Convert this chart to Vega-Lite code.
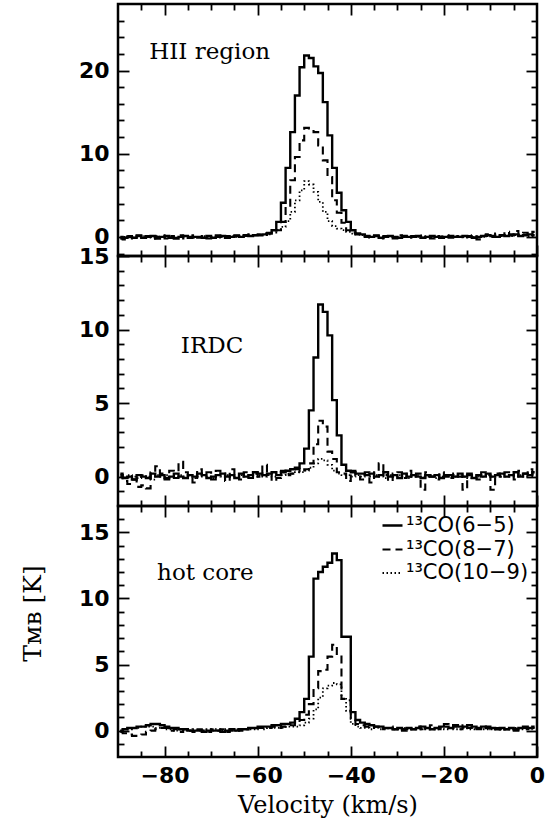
{
"$schema": "https://vega.github.io/schema/vega-lite/v6.json",
"background": "white",
"padding": {"left": 19, "top": 1, "right": 8, "bottom": 2},
"spacing": 0,
"bounds": "flush",
"datasets": {
"hii": [
{"v":-89.5,"s":"6−5","t":-0.2},{"v":-88.5,"s":"6−5","t":-0.1},{"v":-87.5,"s":"6−5","t":0.0},{"v":-86.5,"s":"6−5","t":-0.1},{"v":-85.5,"s":"6−5","t":0.1},{"v":-84.5,"s":"6−5","t":-0.1},{"v":-83.5,"s":"6−5","t":0.0},{"v":-82.5,"s":"6−5","t":0.1},{"v":-81.5,"s":"6−5","t":-0.2},{"v":-80.5,"s":"6−5","t":0.0},
{"v":-79.5,"s":"6−5","t":0.1},{"v":-78.5,"s":"6−5","t":-0.1},{"v":-77.5,"s":"6−5","t":-0.2},{"v":-76.5,"s":"6−5","t":0.0},{"v":-75.5,"s":"6−5","t":0.1},{"v":-74.5,"s":"6−5","t":-0.1},{"v":-73.5,"s":"6−5","t":0.0},{"v":-72.5,"s":"6−5","t":0.0},{"v":-71.5,"s":"6−5","t":-0.1},{"v":-70.5,"s":"6−5","t":0.1},
{"v":-69.5,"s":"6−5","t":-0.1},{"v":-68.5,"s":"6−5","t":0.0},{"v":-67.5,"s":"6−5","t":0.1},{"v":-66.5,"s":"6−5","t":-0.1},{"v":-65.5,"s":"6−5","t":0.0},{"v":-64.5,"s":"6−5","t":0.1},{"v":-63.5,"s":"6−5","t":0.0},{"v":-62.5,"s":"6−5","t":0.2},{"v":-61.5,"s":"6−5","t":0.1},{"v":-60.5,"s":"6−5","t":0.2},
{"v":-59.5,"s":"6−5","t":0.2},{"v":-58.5,"s":"6−5","t":0.3},{"v":-57.5,"s":"6−5","t":0.4},{"v":-56.5,"s":"6−5","t":0.8},{"v":-55.5,"s":"6−5","t":1.8},{"v":-54.5,"s":"6−5","t":4.1},{"v":-53.5,"s":"6−5","t":8.3},{"v":-52.5,"s":"6−5","t":12.6},{"v":-51.5,"s":"6−5","t":17.0},{"v":-50.5,"s":"6−5","t":20.4},
{"v":-49.5,"s":"6−5","t":21.8},{"v":-48.5,"s":"6−5","t":21.5},{"v":-47.5,"s":"6−5","t":20.5},{"v":-46.5,"s":"6−5","t":19.7},{"v":-45.5,"s":"6−5","t":16.2},{"v":-44.5,"s":"6−5","t":12.2},{"v":-43.5,"s":"6−5","t":8.3},{"v":-42.5,"s":"6−5","t":5.3},{"v":-41.5,"s":"6−5","t":3.2},{"v":-40.5,"s":"6−5","t":1.8},
{"v":-39.5,"s":"6−5","t":0.8},{"v":-38.5,"s":"6−5","t":0.4},{"v":-37.5,"s":"6−5","t":0.3},{"v":-36.5,"s":"6−5","t":0.1},{"v":-35.5,"s":"6−5","t":0.0},{"v":-34.5,"s":"6−5","t":0.1},{"v":-33.5,"s":"6−5","t":-0.1},{"v":-32.5,"s":"6−5","t":0.0},{"v":-31.5,"s":"6−5","t":0.1},{"v":-30.5,"s":"6−5","t":0.0},
{"v":-29.5,"s":"6−5","t":-0.1},{"v":-28.5,"s":"6−5","t":0.1},{"v":-27.5,"s":"6−5","t":0.0},{"v":-26.5,"s":"6−5","t":0.0},{"v":-25.5,"s":"6−5","t":0.1},{"v":-24.5,"s":"6−5","t":-0.1},{"v":-23.5,"s":"6−5","t":0.0},{"v":-22.5,"s":"6−5","t":0.1},{"v":-21.5,"s":"6−5","t":0.0},{"v":-20.5,"s":"6−5","t":-0.1},
{"v":-19.5,"s":"6−5","t":0.0},{"v":-18.5,"s":"6−5","t":0.1},{"v":-17.5,"s":"6−5","t":0.0},{"v":-16.5,"s":"6−5","t":0.0},{"v":-15.5,"s":"6−5","t":0.1},{"v":-14.5,"s":"6−5","t":0.0},{"v":-13.5,"s":"6−5","t":-0.1},{"v":-12.5,"s":"6−5","t":0.0},{"v":-11.5,"s":"6−5","t":0.1},{"v":-10.5,"s":"6−5","t":0.2},
{"v":-9.5,"s":"6−5","t":0.1},{"v":-8.5,"s":"6−5","t":0.0},{"v":-7.5,"s":"6−5","t":0.2},{"v":-6.5,"s":"6−5","t":0.1},{"v":-5.5,"s":"6−5","t":0.2},{"v":-4.5,"s":"6−5","t":0.3},{"v":-3.5,"s":"6−5","t":0.1},{"v":-2.5,"s":"6−5","t":0.2},{"v":-1.5,"s":"6−5","t":0.3},{"v":-0.5,"s":"6−5","t":0.2},
{"v":-89.5,"s":"8−7","t":0.0},{"v":-88.5,"s":"8−7","t":-0.3},{"v":-87.5,"s":"8−7","t":0.1},{"v":-86.5,"s":"8−7","t":-0.2},{"v":-85.5,"s":"8−7","t":0.2},{"v":-84.5,"s":"8−7","t":-0.1},{"v":-83.5,"s":"8−7","t":0.1},{"v":-82.5,"s":"8−7","t":-0.2},{"v":-81.5,"s":"8−7","t":0.0},{"v":-80.5,"s":"8−7","t":0.2},
{"v":-79.5,"s":"8−7","t":-0.2},{"v":-78.5,"s":"8−7","t":0.1},{"v":-77.5,"s":"8−7","t":-0.1},{"v":-76.5,"s":"8−7","t":0.2},{"v":-75.5,"s":"8−7","t":-0.2},{"v":-74.5,"s":"8−7","t":0.0},{"v":-73.5,"s":"8−7","t":0.2},{"v":-72.5,"s":"8−7","t":-0.1},{"v":-71.5,"s":"8−7","t":0.1},{"v":-70.5,"s":"8−7","t":-0.2},
{"v":-69.5,"s":"8−7","t":0.0},{"v":-68.5,"s":"8−7","t":0.2},{"v":-67.5,"s":"8−7","t":-0.1},{"v":-66.5,"s":"8−7","t":0.1},{"v":-65.5,"s":"8−7","t":-0.1},{"v":-64.5,"s":"8−7","t":0.2},{"v":-63.5,"s":"8−7","t":0.0},{"v":-62.5,"s":"8−7","t":0.1},{"v":-61.5,"s":"8−7","t":0.3},{"v":-60.5,"s":"8−7","t":0.2},
{"v":-59.5,"s":"8−7","t":0.3},{"v":-58.5,"s":"8−7","t":0.4},{"v":-57.5,"s":"8−7","t":0.5},{"v":-56.5,"s":"8−7","t":0.5},{"v":-55.5,"s":"8−7","t":0.8},{"v":-54.5,"s":"8−7","t":1.8},{"v":-53.5,"s":"8−7","t":3.6},{"v":-52.5,"s":"8−7","t":6.8},{"v":-51.5,"s":"8−7","t":9.6},{"v":-50.5,"s":"8−7","t":11.6},
{"v":-49.5,"s":"8−7","t":13.1},{"v":-48.5,"s":"8−7","t":12.9},{"v":-47.5,"s":"8−7","t":12.6},{"v":-46.5,"s":"8−7","t":11.0},{"v":-45.5,"s":"8−7","t":9.2},{"v":-44.5,"s":"8−7","t":7.2},{"v":-43.5,"s":"8−7","t":4.4},{"v":-42.5,"s":"8−7","t":2.9},{"v":-41.5,"s":"8−7","t":1.7},{"v":-40.5,"s":"8−7","t":0.8},
{"v":-39.5,"s":"8−7","t":0.5},{"v":-38.5,"s":"8−7","t":0.3},{"v":-37.5,"s":"8−7","t":0.2},{"v":-36.5,"s":"8−7","t":0.0},{"v":-35.5,"s":"8−7","t":-0.1},{"v":-34.5,"s":"8−7","t":0.2},{"v":-33.5,"s":"8−7","t":-0.2},{"v":-32.5,"s":"8−7","t":0.1},{"v":-31.5,"s":"8−7","t":0.0},{"v":-30.5,"s":"8−7","t":-0.2},
{"v":-29.5,"s":"8−7","t":0.2},{"v":-28.5,"s":"8−7","t":0.0},{"v":-27.5,"s":"8−7","t":-0.1},{"v":-26.5,"s":"8−7","t":0.1},{"v":-25.5,"s":"8−7","t":0.2},{"v":-24.5,"s":"8−7","t":-0.1},{"v":-23.5,"s":"8−7","t":0.1},{"v":-22.5,"s":"8−7","t":-0.2},{"v":-21.5,"s":"8−7","t":0.1},{"v":-20.5,"s":"8−7","t":0.0},
{"v":-19.5,"s":"8−7","t":0.2},{"v":-18.5,"s":"8−7","t":-0.1},{"v":-17.5,"s":"8−7","t":0.1},{"v":-16.5,"s":"8−7","t":0.0},{"v":-15.5,"s":"8−7","t":-0.2},{"v":-14.5,"s":"8−7","t":0.1},{"v":-13.5,"s":"8−7","t":0.2},{"v":-12.5,"s":"8−7","t":-0.3},{"v":-11.5,"s":"8−7","t":0.1},{"v":-10.5,"s":"8−7","t":0.3},
{"v":-9.5,"s":"8−7","t":0.0},{"v":-8.5,"s":"8−7","t":0.4},{"v":-7.5,"s":"8−7","t":0.2},{"v":-6.5,"s":"8−7","t":0.6},{"v":-5.5,"s":"8−7","t":0.3},{"v":-4.5,"s":"8−7","t":0.7},{"v":-3.5,"s":"8−7","t":0.2},{"v":-2.5,"s":"8−7","t":0.5},{"v":-1.5,"s":"8−7","t":0.1},{"v":-0.5,"s":"8−7","t":0.6},
{"v":-89.5,"s":"10−9","t":-0.1},{"v":-88.5,"s":"10−9","t":0.0},{"v":-87.5,"s":"10−9","t":0.1},{"v":-86.5,"s":"10−9","t":-0.1},{"v":-85.5,"s":"10−9","t":0.0},{"v":-84.5,"s":"10−9","t":0.1},{"v":-83.5,"s":"10−9","t":0.0},{"v":-82.5,"s":"10−9","t":-0.1},{"v":-81.5,"s":"10−9","t":0.1},{"v":-80.5,"s":"10−9","t":0.0},
{"v":-79.5,"s":"10−9","t":0.0},{"v":-78.5,"s":"10−9","t":0.1},{"v":-77.5,"s":"10−9","t":-0.1},{"v":-76.5,"s":"10−9","t":0.0},{"v":-75.5,"s":"10−9","t":0.1},{"v":-74.5,"s":"10−9","t":0.0},{"v":-73.5,"s":"10−9","t":-0.1},{"v":-72.5,"s":"10−9","t":0.0},{"v":-71.5,"s":"10−9","t":0.1},{"v":-70.5,"s":"10−9","t":0.0},
{"v":-69.5,"s":"10−9","t":0.0},{"v":-68.5,"s":"10−9","t":0.1},{"v":-67.5,"s":"10−9","t":0.0},{"v":-66.5,"s":"10−9","t":0.0},{"v":-65.5,"s":"10−9","t":0.1},{"v":-64.5,"s":"10−9","t":0.0},{"v":-63.5,"s":"10−9","t":0.1},{"v":-62.5,"s":"10−9","t":0.1},{"v":-61.5,"s":"10−9","t":0.1},{"v":-60.5,"s":"10−9","t":0.2},
{"v":-59.5,"s":"10−9","t":0.2},{"v":-58.5,"s":"10−9","t":0.2},{"v":-57.5,"s":"10−9","t":0.3},{"v":-56.5,"s":"10−9","t":0.5},{"v":-55.5,"s":"10−9","t":0.8},{"v":-54.5,"s":"10−9","t":1.2},{"v":-53.5,"s":"10−9","t":1.9},{"v":-52.5,"s":"10−9","t":3.0},{"v":-51.5,"s":"10−9","t":4.4},{"v":-50.5,"s":"10−9","t":5.6},
{"v":-49.5,"s":"10−9","t":6.7},{"v":-48.5,"s":"10−9","t":6.3},{"v":-47.5,"s":"10−9","t":5.4},{"v":-46.5,"s":"10−9","t":4.2},{"v":-45.5,"s":"10−9","t":3.0},{"v":-44.5,"s":"10−9","t":1.9},{"v":-43.5,"s":"10−9","t":1.3},{"v":-42.5,"s":"10−9","t":1.0},{"v":-41.5,"s":"10−9","t":0.8},{"v":-40.5,"s":"10−9","t":0.6},
{"v":-39.5,"s":"10−9","t":0.4},{"v":-38.5,"s":"10−9","t":0.3},{"v":-37.5,"s":"10−9","t":0.2},{"v":-36.5,"s":"10−9","t":0.1},{"v":-35.5,"s":"10−9","t":0.0},{"v":-34.5,"s":"10−9","t":0.1},{"v":-33.5,"s":"10−9","t":0.0},{"v":-32.5,"s":"10−9","t":0.0},{"v":-31.5,"s":"10−9","t":0.1},{"v":-30.5,"s":"10−9","t":0.0},
{"v":-29.5,"s":"10−9","t":-0.1},{"v":-28.5,"s":"10−9","t":0.0},{"v":-27.5,"s":"10−9","t":0.1},{"v":-26.5,"s":"10−9","t":0.0},{"v":-25.5,"s":"10−9","t":0.0},{"v":-24.5,"s":"10−9","t":0.1},{"v":-23.5,"s":"10−9","t":0.0},{"v":-22.5,"s":"10−9","t":-0.1},{"v":-21.5,"s":"10−9","t":0.0},{"v":-20.5,"s":"10−9","t":0.1},
{"v":-19.5,"s":"10−9","t":0.0},{"v":-18.5,"s":"10−9","t":0.0},{"v":-17.5,"s":"10−9","t":0.1},{"v":-16.5,"s":"10−9","t":0.0},{"v":-15.5,"s":"10−9","t":0.0},{"v":-14.5,"s":"10−9","t":0.1},{"v":-13.5,"s":"10−9","t":0.0},{"v":-12.5,"s":"10−9","t":0.1},{"v":-11.5,"s":"10−9","t":0.0},{"v":-10.5,"s":"10−9","t":0.1},
{"v":-9.5,"s":"10−9","t":0.1},{"v":-8.5,"s":"10−9","t":0.0},{"v":-7.5,"s":"10−9","t":0.1},{"v":-6.5,"s":"10−9","t":0.2},{"v":-5.5,"s":"10−9","t":0.1},{"v":-4.5,"s":"10−9","t":0.2},{"v":-3.5,"s":"10−9","t":0.1},{"v":-2.5,"s":"10−9","t":0.2},{"v":-1.5,"s":"10−9","t":0.1},{"v":-0.5,"s":"10−9","t":0.2}
],
"irdc": [
{"v":-89.5,"s":"6−5","t":0.1},{"v":-88.5,"s":"6−5","t":-0.1},{"v":-87.5,"s":"6−5","t":0.0},{"v":-86.5,"s":"6−5","t":-0.2},{"v":-85.5,"s":"6−5","t":0.1},{"v":-84.5,"s":"6−5","t":0.0},{"v":-83.5,"s":"6−5","t":-0.1},{"v":-82.5,"s":"6−5","t":0.2},{"v":-81.5,"s":"6−5","t":0.0},{"v":-80.5,"s":"6−5","t":0.1},
{"v":-79.5,"s":"6−5","t":-0.1},{"v":-78.5,"s":"6−5","t":0.0},{"v":-77.5,"s":"6−5","t":0.2},{"v":-76.5,"s":"6−5","t":0.0},{"v":-75.5,"s":"6−5","t":-0.1},{"v":-74.5,"s":"6−5","t":0.1},{"v":-73.5,"s":"6−5","t":0.0},{"v":-72.5,"s":"6−5","t":0.2},{"v":-71.5,"s":"6−5","t":0.1},{"v":-70.5,"s":"6−5","t":-0.1},
{"v":-69.5,"s":"6−5","t":0.0},{"v":-68.5,"s":"6−5","t":0.1},{"v":-67.5,"s":"6−5","t":0.2},{"v":-66.5,"s":"6−5","t":0.0},{"v":-65.5,"s":"6−5","t":0.1},{"v":-64.5,"s":"6−5","t":-0.1},{"v":-63.5,"s":"6−5","t":0.2},{"v":-62.5,"s":"6−5","t":0.0},{"v":-61.5,"s":"6−5","t":0.1},{"v":-60.5,"s":"6−5","t":0.3},
{"v":-59.5,"s":"6−5","t":0.2},{"v":-58.5,"s":"6−5","t":0.1},{"v":-57.5,"s":"6−5","t":0.2},{"v":-56.5,"s":"6−5","t":0.3},{"v":-55.5,"s":"6−5","t":0.1},{"v":-54.5,"s":"6−5","t":0.3},{"v":-53.5,"s":"6−5","t":0.4},{"v":-52.5,"s":"6−5","t":0.5},{"v":-51.5,"s":"6−5","t":0.6},{"v":-50.5,"s":"6−5","t":0.9},
{"v":-49.5,"s":"6−5","t":1.9},{"v":-48.5,"s":"6−5","t":4.5},{"v":-47.5,"s":"6−5","t":8.1},{"v":-46.5,"s":"6−5","t":11.7},{"v":-45.5,"s":"6−5","t":11.2},{"v":-44.5,"s":"6−5","t":9.6},{"v":-43.5,"s":"6−5","t":5.2},{"v":-42.5,"s":"6−5","t":2.8},{"v":-41.5,"s":"6−5","t":0.8},{"v":-40.5,"s":"6−5","t":0.4},
{"v":-39.5,"s":"6−5","t":0.3},{"v":-38.5,"s":"6−5","t":0.2},{"v":-37.5,"s":"6−5","t":0.2},{"v":-36.5,"s":"6−5","t":0.1},{"v":-35.5,"s":"6−5","t":0.2},{"v":-34.5,"s":"6−5","t":0.0},{"v":-33.5,"s":"6−5","t":0.1},{"v":-32.5,"s":"6−5","t":0.3},{"v":-31.5,"s":"6−5","t":0.0},{"v":-30.5,"s":"6−5","t":0.1},
{"v":-29.5,"s":"6−5","t":-0.1},{"v":-28.5,"s":"6−5","t":0.2},{"v":-27.5,"s":"6−5","t":0.0},{"v":-26.5,"s":"6−5","t":0.1},{"v":-25.5,"s":"6−5","t":0.0},{"v":-24.5,"s":"6−5","t":-0.1},{"v":-23.5,"s":"6−5","t":0.1},{"v":-22.5,"s":"6−5","t":0.0},{"v":-21.5,"s":"6−5","t":0.1},{"v":-20.5,"s":"6−5","t":-0.1},
{"v":-19.5,"s":"6−5","t":0.0},{"v":-18.5,"s":"6−5","t":0.1},{"v":-17.5,"s":"6−5","t":0.0},{"v":-16.5,"s":"6−5","t":0.2},{"v":-15.5,"s":"6−5","t":0.0},{"v":-14.5,"s":"6−5","t":0.1},{"v":-13.5,"s":"6−5","t":-0.1},{"v":-12.5,"s":"6−5","t":0.1},{"v":-11.5,"s":"6−5","t":0.0},{"v":-10.5,"s":"6−5","t":0.2},
{"v":-9.5,"s":"6−5","t":0.0},{"v":-8.5,"s":"6−5","t":0.1},{"v":-7.5,"s":"6−5","t":0.2},{"v":-6.5,"s":"6−5","t":0.0},{"v":-5.5,"s":"6−5","t":0.1},{"v":-4.5,"s":"6−5","t":0.3},{"v":-3.5,"s":"6−5","t":0.0},{"v":-2.5,"s":"6−5","t":0.2},{"v":-1.5,"s":"6−5","t":0.1},{"v":-0.5,"s":"6−5","t":0.3},
{"v":-89.5,"s":"8−7","t":0.2},{"v":-88.5,"s":"8−7","t":-0.3},{"v":-87.5,"s":"8−7","t":-0.5},{"v":-86.5,"s":"8−7","t":-0.2},{"v":-85.5,"s":"8−7","t":-0.7},{"v":-84.5,"s":"8−7","t":-0.6},{"v":-83.5,"s":"8−7","t":-0.8},{"v":-82.5,"s":"8−7","t":0.3},{"v":-81.5,"s":"8−7","t":0.7},{"v":-80.5,"s":"8−7","t":0.2},
{"v":-79.5,"s":"8−7","t":-0.2},{"v":-78.5,"s":"8−7","t":0.4},{"v":-77.5,"s":"8−7","t":-0.1},{"v":-76.5,"s":"8−7","t":1.0},{"v":-75.5,"s":"8−7","t":0.3},{"v":-74.5,"s":"8−7","t":0.1},{"v":-73.5,"s":"8−7","t":-0.4},{"v":-72.5,"s":"8−7","t":0.5},{"v":-71.5,"s":"8−7","t":0.1},{"v":-70.5,"s":"8−7","t":0.3},
{"v":-69.5,"s":"8−7","t":-0.2},{"v":-68.5,"s":"8−7","t":0.4},{"v":-67.5,"s":"8−7","t":0.2},{"v":-66.5,"s":"8−7","t":-0.3},{"v":-65.5,"s":"8−7","t":0.5},{"v":-64.5,"s":"8−7","t":0.1},{"v":-63.5,"s":"8−7","t":-0.2},{"v":-62.5,"s":"8−7","t":0.3},{"v":-61.5,"s":"8−7","t":-0.1},{"v":-60.5,"s":"8−7","t":0.2},
{"v":-59.5,"s":"8−7","t":0.0},{"v":-58.5,"s":"8−7","t":0.8},{"v":-57.5,"s":"8−7","t":0.2},{"v":-56.5,"s":"8−7","t":-0.3},{"v":-55.5,"s":"8−7","t":-0.1},{"v":-54.5,"s":"8−7","t":0.4},{"v":-53.5,"s":"8−7","t":0.1},{"v":-52.5,"s":"8−7","t":0.2},{"v":-51.5,"s":"8−7","t":0.5},{"v":-50.5,"s":"8−7","t":0.3},
{"v":-49.5,"s":"8−7","t":0.5},{"v":-48.5,"s":"8−7","t":0.9},{"v":-47.5,"s":"8−7","t":2.2},{"v":-46.5,"s":"8−7","t":3.8},{"v":-45.5,"s":"8−7","t":3.4},{"v":-44.5,"s":"8−7","t":1.7},{"v":-43.5,"s":"8−7","t":1.2},{"v":-42.5,"s":"8−7","t":0.3},{"v":-41.5,"s":"8−7","t":0.2},{"v":-40.5,"s":"8−7","t":-0.3},
{"v":-39.5,"s":"8−7","t":0.4},{"v":-38.5,"s":"8−7","t":0.1},{"v":-37.5,"s":"8−7","t":-0.2},{"v":-36.5,"s":"8−7","t":0.3},{"v":-35.5,"s":"8−7","t":-0.4},{"v":-34.5,"s":"8−7","t":0.3},{"v":-33.5,"s":"8−7","t":0.9},{"v":-32.5,"s":"8−7","t":0.1},{"v":-31.5,"s":"8−7","t":-0.3},{"v":-30.5,"s":"8−7","t":0.2},
{"v":-29.5,"s":"8−7","t":0.3},{"v":-28.5,"s":"8−7","t":-0.1},{"v":-27.5,"s":"8−7","t":0.4},{"v":-26.5,"s":"8−7","t":0.0},{"v":-25.5,"s":"8−7","t":0.2},{"v":-24.5,"s":"8−7","t":-0.9},{"v":-23.5,"s":"8−7","t":0.3},{"v":-22.5,"s":"8−7","t":0.0},{"v":-21.5,"s":"8−7","t":-0.2},{"v":-20.5,"s":"8−7","t":0.3},
{"v":-19.5,"s":"8−7","t":0.1},{"v":-18.5,"s":"8−7","t":-0.1},{"v":-17.5,"s":"8−7","t":0.2},{"v":-16.5,"s":"8−7","t":0.0},{"v":-15.5,"s":"8−7","t":-0.9},{"v":-14.5,"s":"8−7","t":0.2},{"v":-13.5,"s":"8−7","t":0.1},{"v":-12.5,"s":"8−7","t":-0.2},{"v":-11.5,"s":"8−7","t":0.3},{"v":-10.5,"s":"8−7","t":0.1},
{"v":-9.5,"s":"8−7","t":-0.9},{"v":-8.5,"s":"8−7","t":0.2},{"v":-7.5,"s":"8−7","t":0.0},{"v":-6.5,"s":"8−7","t":0.3},{"v":-5.5,"s":"8−7","t":0.1},{"v":-4.5,"s":"8−7","t":-0.2},{"v":-3.5,"s":"8−7","t":0.4},{"v":-2.5,"s":"8−7","t":0.2},{"v":-1.5,"s":"8−7","t":0.5},{"v":-0.5,"s":"8−7","t":0.1},
{"v":-89.5,"s":"10−9","t":0.0},{"v":-88.5,"s":"10−9","t":-0.1},{"v":-87.5,"s":"10−9","t":0.1},{"v":-86.5,"s":"10−9","t":0.0},{"v":-85.5,"s":"10−9","t":-0.1},{"v":-84.5,"s":"10−9","t":0.1},{"v":-83.5,"s":"10−9","t":0.0},{"v":-82.5,"s":"10−9","t":-0.2},{"v":-81.5,"s":"10−9","t":0.1},{"v":-80.5,"s":"10−9","t":0.0},
{"v":-79.5,"s":"10−9","t":0.1},{"v":-78.5,"s":"10−9","t":0.0},{"v":-77.5,"s":"10−9","t":-0.1},{"v":-76.5,"s":"10−9","t":0.1},{"v":-75.5,"s":"10−9","t":0.0},{"v":-74.5,"s":"10−9","t":0.1},{"v":-73.5,"s":"10−9","t":-0.1},{"v":-72.5,"s":"10−9","t":0.0},{"v":-71.5,"s":"10−9","t":0.1},{"v":-70.5,"s":"10−9","t":0.0},
{"v":-69.5,"s":"10−9","t":-0.1},{"v":-68.5,"s":"10−9","t":0.1},{"v":-67.5,"s":"10−9","t":0.0},{"v":-66.5,"s":"10−9","t":0.1},{"v":-65.5,"s":"10−9","t":0.0},{"v":-64.5,"s":"10−9","t":-0.1},{"v":-63.5,"s":"10−9","t":0.1},{"v":-62.5,"s":"10−9","t":0.0},{"v":-61.5,"s":"10−9","t":0.1},{"v":-60.5,"s":"10−9","t":0.0},
{"v":-59.5,"s":"10−9","t":0.1},{"v":-58.5,"s":"10−9","t":0.0},{"v":-57.5,"s":"10−9","t":0.1},{"v":-56.5,"s":"10−9","t":0.0},{"v":-55.5,"s":"10−9","t":0.1},{"v":-54.5,"s":"10−9","t":0.1},{"v":-53.5,"s":"10−9","t":0.2},{"v":-52.5,"s":"10−9","t":0.2},{"v":-51.5,"s":"10−9","t":0.3},{"v":-50.5,"s":"10−9","t":0.3},
{"v":-49.5,"s":"10−9","t":0.4},{"v":-48.5,"s":"10−9","t":0.6},{"v":-47.5,"s":"10−9","t":0.9},{"v":-46.5,"s":"10−9","t":1.2},{"v":-45.5,"s":"10−9","t":1.1},{"v":-44.5,"s":"10−9","t":0.8},{"v":-43.5,"s":"10−9","t":0.4},{"v":-42.5,"s":"10−9","t":0.2},{"v":-41.5,"s":"10−9","t":0.1},{"v":-40.5,"s":"10−9","t":0.1},
{"v":-39.5,"s":"10−9","t":0.0},{"v":-38.5,"s":"10−9","t":0.1},{"v":-37.5,"s":"10−9","t":0.0},{"v":-36.5,"s":"10−9","t":0.1},{"v":-35.5,"s":"10−9","t":0.0},{"v":-34.5,"s":"10−9","t":0.1},{"v":-33.5,"s":"10−9","t":0.0},{"v":-32.5,"s":"10−9","t":-0.1},{"v":-31.5,"s":"10−9","t":0.1},{"v":-30.5,"s":"10−9","t":0.0},
{"v":-29.5,"s":"10−9","t":0.1},{"v":-28.5,"s":"10−9","t":0.0},{"v":-27.5,"s":"10−9","t":-0.1},{"v":-26.5,"s":"10−9","t":0.0},{"v":-25.5,"s":"10−9","t":0.1},{"v":-24.5,"s":"10−9","t":0.0},{"v":-23.5,"s":"10−9","t":0.0},{"v":-22.5,"s":"10−9","t":0.1},{"v":-21.5,"s":"10−9","t":-0.1},{"v":-20.5,"s":"10−9","t":0.0},
{"v":-19.5,"s":"10−9","t":0.1},{"v":-18.5,"s":"10−9","t":0.0},{"v":-17.5,"s":"10−9","t":0.0},{"v":-16.5,"s":"10−9","t":0.1},{"v":-15.5,"s":"10−9","t":0.0},{"v":-14.5,"s":"10−9","t":-0.1},{"v":-13.5,"s":"10−9","t":0.1},{"v":-12.5,"s":"10−9","t":0.0},{"v":-11.5,"s":"10−9","t":0.0},{"v":-10.5,"s":"10−9","t":0.1},
{"v":-9.5,"s":"10−9","t":0.0},{"v":-8.5,"s":"10−9","t":0.1},{"v":-7.5,"s":"10−9","t":0.0},{"v":-6.5,"s":"10−9","t":0.0},{"v":-5.5,"s":"10−9","t":0.1},{"v":-4.5,"s":"10−9","t":0.0},{"v":-3.5,"s":"10−9","t":0.1},{"v":-2.5,"s":"10−9","t":0.0},{"v":-1.5,"s":"10−9","t":0.1},{"v":-0.5,"s":"10−9","t":0.0}
],
"hc": [
{"v":-89.5,"s":"6−5","t":0.0},{"v":-88.5,"s":"6−5","t":0.1},{"v":-87.5,"s":"6−5","t":0.2},{"v":-86.5,"s":"6−5","t":0.2},{"v":-85.5,"s":"6−5","t":0.3},{"v":-84.5,"s":"6−5","t":0.3},{"v":-83.5,"s":"6−5","t":0.4},{"v":-82.5,"s":"6−5","t":0.5},{"v":-81.5,"s":"6−5","t":0.5},{"v":-80.5,"s":"6−5","t":0.4},
{"v":-79.5,"s":"6−5","t":0.3},{"v":-78.5,"s":"6−5","t":0.2},{"v":-77.5,"s":"6−5","t":0.2},{"v":-76.5,"s":"6−5","t":0.1},{"v":-75.5,"s":"6−5","t":0.1},{"v":-74.5,"s":"6−5","t":0.0},{"v":-73.5,"s":"6−5","t":0.0},{"v":-72.5,"s":"6−5","t":0.0},{"v":-71.5,"s":"6−5","t":-0.1},{"v":-70.5,"s":"6−5","t":0.0},
{"v":-69.5,"s":"6−5","t":0.0},{"v":-68.5,"s":"6−5","t":0.0},{"v":-67.5,"s":"6−5","t":-0.1},{"v":-66.5,"s":"6−5","t":0.0},{"v":-65.5,"s":"6−5","t":0.1},{"v":-64.5,"s":"6−5","t":0.0},{"v":-63.5,"s":"6−5","t":0.1},{"v":-62.5,"s":"6−5","t":0.1},{"v":-61.5,"s":"6−5","t":0.2},{"v":-60.5,"s":"6−5","t":0.2},
{"v":-59.5,"s":"6−5","t":0.3},{"v":-58.5,"s":"6−5","t":0.3},{"v":-57.5,"s":"6−5","t":0.3},{"v":-56.5,"s":"6−5","t":0.4},{"v":-55.5,"s":"6−5","t":0.4},{"v":-54.5,"s":"6−5","t":0.5},{"v":-53.5,"s":"6−5","t":0.5},{"v":-52.5,"s":"6−5","t":0.6},{"v":-51.5,"s":"6−5","t":0.9},{"v":-50.5,"s":"6−5","t":1.4},
{"v":-49.5,"s":"6−5","t":2.4},{"v":-48.5,"s":"6−5","t":5.6},{"v":-47.5,"s":"6−5","t":11.5},{"v":-46.5,"s":"6−5","t":12.0},{"v":-45.5,"s":"6−5","t":12.4},{"v":-44.5,"s":"6−5","t":12.7},{"v":-43.5,"s":"6−5","t":13.4},{"v":-42.5,"s":"6−5","t":12.9},{"v":-41.5,"s":"6−5","t":7.1},{"v":-40.5,"s":"6−5","t":7.1},
{"v":-39.5,"s":"6−5","t":1.4},{"v":-38.5,"s":"6−5","t":0.8},{"v":-37.5,"s":"6−5","t":0.6},{"v":-36.5,"s":"6−5","t":0.5},{"v":-35.5,"s":"6−5","t":0.4},{"v":-34.5,"s":"6−5","t":0.3},{"v":-33.5,"s":"6−5","t":0.3},{"v":-32.5,"s":"6−5","t":0.2},{"v":-31.5,"s":"6−5","t":0.2},{"v":-30.5,"s":"6−5","t":0.1},
{"v":-29.5,"s":"6−5","t":0.2},{"v":-28.5,"s":"6−5","t":0.1},{"v":-27.5,"s":"6−5","t":0.2},{"v":-26.5,"s":"6−5","t":0.1},{"v":-25.5,"s":"6−5","t":0.2},{"v":-24.5,"s":"6−5","t":0.3},{"v":-23.5,"s":"6−5","t":0.2},{"v":-22.5,"s":"6−5","t":0.1},{"v":-21.5,"s":"6−5","t":0.2},{"v":-20.5,"s":"6−5","t":0.3},
{"v":-19.5,"s":"6−5","t":0.3},{"v":-18.5,"s":"6−5","t":0.2},{"v":-17.5,"s":"6−5","t":0.4},{"v":-16.5,"s":"6−5","t":0.3},{"v":-15.5,"s":"6−5","t":0.3},{"v":-14.5,"s":"6−5","t":0.4},{"v":-13.5,"s":"6−5","t":0.3},{"v":-12.5,"s":"6−5","t":0.2},{"v":-11.5,"s":"6−5","t":0.3},{"v":-10.5,"s":"6−5","t":0.2},
{"v":-9.5,"s":"6−5","t":0.2},{"v":-8.5,"s":"6−5","t":0.1},{"v":-7.5,"s":"6−5","t":0.2},{"v":-6.5,"s":"6−5","t":0.1},{"v":-5.5,"s":"6−5","t":0.2},{"v":-4.5,"s":"6−5","t":0.1},{"v":-3.5,"s":"6−5","t":0.2},{"v":-2.5,"s":"6−5","t":0.3},{"v":-1.5,"s":"6−5","t":0.2},{"v":-0.5,"s":"6−5","t":0.3},
{"v":-89.5,"s":"8−7","t":-0.1},{"v":-88.5,"s":"8−7","t":-0.2},{"v":-87.5,"s":"8−7","t":-0.3},{"v":-86.5,"s":"8−7","t":-0.4},{"v":-85.5,"s":"8−7","t":-0.4},{"v":-84.5,"s":"8−7","t":-0.3},{"v":-83.5,"s":"8−7","t":-0.1},{"v":-82.5,"s":"8−7","t":0.0},{"v":-81.5,"s":"8−7","t":0.1},{"v":-80.5,"s":"8−7","t":0.2},
{"v":-79.5,"s":"8−7","t":0.2},{"v":-78.5,"s":"8−7","t":0.0},{"v":-77.5,"s":"8−7","t":0.1},{"v":-76.5,"s":"8−7","t":-0.1},{"v":-75.5,"s":"8−7","t":0.1},{"v":-74.5,"s":"8−7","t":0.0},{"v":-73.5,"s":"8−7","t":-0.1},{"v":-72.5,"s":"8−7","t":0.1},{"v":-71.5,"s":"8−7","t":0.0},{"v":-70.5,"s":"8−7","t":-0.1},
{"v":-69.5,"s":"8−7","t":0.1},{"v":-68.5,"s":"8−7","t":0.0},{"v":-67.5,"s":"8−7","t":0.1},{"v":-66.5,"s":"8−7","t":-0.1},{"v":-65.5,"s":"8−7","t":0.0},{"v":-64.5,"s":"8−7","t":0.1},{"v":-63.5,"s":"8−7","t":0.0},{"v":-62.5,"s":"8−7","t":0.1},{"v":-61.5,"s":"8−7","t":0.2},{"v":-60.5,"s":"8−7","t":0.1},
{"v":-59.5,"s":"8−7","t":0.2},{"v":-58.5,"s":"8−7","t":0.2},{"v":-57.5,"s":"8−7","t":0.2},{"v":-56.5,"s":"8−7","t":0.3},{"v":-55.5,"s":"8−7","t":0.2},{"v":-54.5,"s":"8−7","t":0.3},{"v":-53.5,"s":"8−7","t":0.4},{"v":-52.5,"s":"8−7","t":0.4},{"v":-51.5,"s":"8−7","t":0.6},{"v":-50.5,"s":"8−7","t":0.8},
{"v":-49.5,"s":"8−7","t":1.2},{"v":-48.5,"s":"8−7","t":2.0},{"v":-47.5,"s":"8−7","t":3.2},{"v":-46.5,"s":"8−7","t":4.5},{"v":-45.5,"s":"8−7","t":4.6},{"v":-44.5,"s":"8−7","t":5.6},{"v":-43.5,"s":"8−7","t":6.5},{"v":-42.5,"s":"8−7","t":5.7},{"v":-41.5,"s":"8−7","t":2.4},{"v":-40.5,"s":"8−7","t":2.3},
{"v":-39.5,"s":"8−7","t":0.9},{"v":-38.5,"s":"8−7","t":0.5},{"v":-37.5,"s":"8−7","t":0.4},{"v":-36.5,"s":"8−7","t":0.3},{"v":-35.5,"s":"8−7","t":0.2},{"v":-34.5,"s":"8−7","t":0.3},{"v":-33.5,"s":"8−7","t":0.1},{"v":-32.5,"s":"8−7","t":0.2},{"v":-31.5,"s":"8−7","t":0.3},{"v":-30.5,"s":"8−7","t":0.1},
{"v":-29.5,"s":"8−7","t":0.2},{"v":-28.5,"s":"8−7","t":0.0},{"v":-27.5,"s":"8−7","t":0.2},{"v":-26.5,"s":"8−7","t":0.1},{"v":-25.5,"s":"8−7","t":0.3},{"v":-24.5,"s":"8−7","t":0.1},{"v":-23.5,"s":"8−7","t":0.2},{"v":-22.5,"s":"8−7","t":0.4},{"v":-21.5,"s":"8−7","t":0.2},{"v":-20.5,"s":"8−7","t":0.1},
{"v":-19.5,"s":"8−7","t":0.5},{"v":-18.5,"s":"8−7","t":0.2},{"v":-17.5,"s":"8−7","t":0.3},{"v":-16.5,"s":"8−7","t":0.1},{"v":-15.5,"s":"8−7","t":0.4},{"v":-14.5,"s":"8−7","t":0.2},{"v":-13.5,"s":"8−7","t":0.3},{"v":-12.5,"s":"8−7","t":0.1},{"v":-11.5,"s":"8−7","t":0.2},{"v":-10.5,"s":"8−7","t":0.3},
{"v":-9.5,"s":"8−7","t":0.1},{"v":-8.5,"s":"8−7","t":0.2},{"v":-7.5,"s":"8−7","t":0.0},{"v":-6.5,"s":"8−7","t":0.1},{"v":-5.5,"s":"8−7","t":0.2},{"v":-4.5,"s":"8−7","t":0.0},{"v":-3.5,"s":"8−7","t":0.1},{"v":-2.5,"s":"8−7","t":0.2},{"v":-1.5,"s":"8−7","t":0.1},{"v":-0.5,"s":"8−7","t":0.2},
{"v":-89.5,"s":"10−9","t":0.0},{"v":-88.5,"s":"10−9","t":0.1},{"v":-87.5,"s":"10−9","t":0.1},{"v":-86.5,"s":"10−9","t":0.2},{"v":-85.5,"s":"10−9","t":0.2},{"v":-84.5,"s":"10−9","t":0.3},{"v":-83.5,"s":"10−9","t":0.3},{"v":-82.5,"s":"10−9","t":0.3},{"v":-81.5,"s":"10−9","t":0.2},{"v":-80.5,"s":"10−9","t":0.2},
{"v":-79.5,"s":"10−9","t":0.1},{"v":-78.5,"s":"10−9","t":0.1},{"v":-77.5,"s":"10−9","t":0.0},{"v":-76.5,"s":"10−9","t":0.1},{"v":-75.5,"s":"10−9","t":0.0},{"v":-74.5,"s":"10−9","t":0.0},{"v":-73.5,"s":"10−9","t":0.1},{"v":-72.5,"s":"10−9","t":0.0},{"v":-71.5,"s":"10−9","t":0.0},{"v":-70.5,"s":"10−9","t":0.1},
{"v":-69.5,"s":"10−9","t":0.0},{"v":-68.5,"s":"10−9","t":0.1},{"v":-67.5,"s":"10−9","t":0.0},{"v":-66.5,"s":"10−9","t":0.1},{"v":-65.5,"s":"10−9","t":0.1},{"v":-64.5,"s":"10−9","t":0.0},{"v":-63.5,"s":"10−9","t":0.1},{"v":-62.5,"s":"10−9","t":0.1},{"v":-61.5,"s":"10−9","t":0.1},{"v":-60.5,"s":"10−9","t":0.1},
{"v":-59.5,"s":"10−9","t":0.2},{"v":-58.5,"s":"10−9","t":0.1},{"v":-57.5,"s":"10−9","t":0.2},{"v":-56.5,"s":"10−9","t":0.2},{"v":-55.5,"s":"10−9","t":0.2},{"v":-54.5,"s":"10−9","t":0.2},{"v":-53.5,"s":"10−9","t":0.3},{"v":-52.5,"s":"10−9","t":0.3},{"v":-51.5,"s":"10−9","t":0.3},{"v":-50.5,"s":"10−9","t":0.4},
{"v":-49.5,"s":"10−9","t":0.6},{"v":-48.5,"s":"10−9","t":0.9},{"v":-47.5,"s":"10−9","t":1.6},{"v":-46.5,"s":"10−9","t":2.5},{"v":-45.5,"s":"10−9","t":3.2},{"v":-44.5,"s":"10−9","t":3.4},{"v":-43.5,"s":"10−9","t":3.6},{"v":-42.5,"s":"10−9","t":3.5},{"v":-41.5,"s":"10−9","t":2.4},{"v":-40.5,"s":"10−9","t":1.5},
{"v":-39.5,"s":"10−9","t":0.5},{"v":-38.5,"s":"10−9","t":0.3},{"v":-37.5,"s":"10−9","t":0.2},{"v":-36.5,"s":"10−9","t":0.2},{"v":-35.5,"s":"10−9","t":0.1},{"v":-34.5,"s":"10−9","t":0.2},{"v":-33.5,"s":"10−9","t":0.1},{"v":-32.5,"s":"10−9","t":0.1},{"v":-31.5,"s":"10−9","t":0.2},{"v":-30.5,"s":"10−9","t":0.1},
{"v":-29.5,"s":"10−9","t":0.1},{"v":-28.5,"s":"10−9","t":0.2},{"v":-27.5,"s":"10−9","t":0.1},{"v":-26.5,"s":"10−9","t":0.1},{"v":-25.5,"s":"10−9","t":0.2},{"v":-24.5,"s":"10−9","t":0.1},{"v":-23.5,"s":"10−9","t":0.2},{"v":-22.5,"s":"10−9","t":0.1},{"v":-21.5,"s":"10−9","t":0.1},{"v":-20.5,"s":"10−9","t":0.2},
{"v":-19.5,"s":"10−9","t":0.1},{"v":-18.5,"s":"10−9","t":0.2},{"v":-17.5,"s":"10−9","t":0.1},{"v":-16.5,"s":"10−9","t":0.1},{"v":-15.5,"s":"10−9","t":0.2},{"v":-14.5,"s":"10−9","t":0.1},{"v":-13.5,"s":"10−9","t":0.1},{"v":-12.5,"s":"10−9","t":0.2},{"v":-11.5,"s":"10−9","t":0.1},{"v":-10.5,"s":"10−9","t":0.1},
{"v":-9.5,"s":"10−9","t":0.1},{"v":-8.5,"s":"10−9","t":0.2},{"v":-7.5,"s":"10−9","t":0.1},{"v":-6.5,"s":"10−9","t":0.1},{"v":-5.5,"s":"10−9","t":0.1},{"v":-4.5,"s":"10−9","t":0.2},{"v":-3.5,"s":"10−9","t":0.1},{"v":-2.5,"s":"10−9","t":0.1},{"v":-1.5,"s":"10−9","t":0.2},{"v":-0.5,"s":"10−9","t":0.1}
]
},
"vconcat": [
{
"width": 419, "height": 252,
"resolve": {"axis": {"x": "independent", "y": "independent"}},
"layer": [
{"data": {"name": "hii"},
 "mark": {"type": "line", "interpolate": "step", "color": "black", "clip": true},
 "encoding": {
  "x": {"field": "v", "type": "quantitative", "scale": {"domain": [-90, 0], "nice": false, "zero": false},
        "axis": {"orient": "bottom", "title": null, "labels": false, "values": [-85,-80,-75,-70,-65,-60,-55,-50,-45,-40,-35,-30,-25,-20,-15,-10,-5,0],
                 "tickSize": {"condition": {"test": "datum.value % 20 === 0", "value": -11}, "value": -6}}},
  "y": {"field": "t", "type": "quantitative", "scale": {"domain": [-2.3, 28], "nice": false, "zero": false},
        "axis": {"orient": "left", "title": null, "values": [-2,0,2,4,6,8,10,12,14,16,18,20,22,24,26],
                 "labelExpr": "datum.value % 10 === 0 ? datum.label : ''",
                 "tickSize": {"condition": {"test": "datum.value % 10 === 0", "value": -11}, "value": -6}}},
  "strokeDash": {"field": "s", "type": "nominal", "scale": {"domain": ["6−5", "8−7", "10−9"], "range": [[1, 0], [8, 5], [1.5, 2.5]]}, "legend": null},
  "strokeWidth": {"field": "s", "type": "ordinal", "scale": {"domain": ["6−5", "8−7", "10−9"], "range": [2.4, 1.8, 1.4]}, "legend": null}
 }},
{"data": {"values": [{}]},
 "mark": {"type": "text", "font": "DejaVu Serif", "fontSize": 23, "align": "left", "baseline": "middle", "color": "black"},
 "encoding": {
  "x": {"datum": -83.3, "type": "quantitative", "scale": {"domain": [-90, 0], "nice": false, "zero": false},
        "axis": {"orient": "top", "title": null, "labels": false, "values": [-85,-80,-75,-70,-65,-60,-55,-50,-45,-40,-35,-30,-25,-20,-15,-10,-5],
                 "tickSize": {"condition": {"test": "datum.value % 20 === 0", "value": -11}, "value": -6}}},
  "y": {"datum": 22.2, "type": "quantitative", "scale": {"domain": [-2.3, 28], "nice": false, "zero": false},
        "axis": {"orient": "right", "title": null, "labels": false, "values": [-2,0,2,4,6,8,10,12,14,16,18,20,22,24,26],
                 "tickSize": {"condition": {"test": "datum.value % 10 === 0", "value": -11}, "value": -6}}},
  "text": {"value": "HII region"}
 }}
]
},
{
"width": 419, "height": 250,
"resolve": {"axis": {"x": "independent", "y": "independent"}},
"layer": [
{"data": {"name": "irdc"},
 "mark": {"type": "line", "interpolate": "step", "color": "black", "clip": true},
 "encoding": {
  "x": {"field": "v", "type": "quantitative", "scale": {"domain": [-90, 0], "nice": false, "zero": false},
        "axis": {"orient": "bottom", "title": null, "labels": false, "values": [-85,-80,-75,-70,-65,-60,-55,-50,-45,-40,-35,-30,-25,-20,-15,-10,-5,0],
                 "tickSize": {"condition": {"test": "datum.value % 20 === 0", "value": -11}, "value": -6}}},
  "y": {"field": "t", "type": "quantitative", "scale": {"domain": [-2, 15], "nice": false, "zero": false},
        "axis": {"orient": "left", "title": null, "values": [-1,0,1,2,3,4,5,6,7,8,9,10,11,12,13,14,15],
                 "labelExpr": "datum.value % 5 === 0 ? datum.label : ''",
                 "tickSize": {"condition": {"test": "datum.value % 5 === 0", "value": -11}, "value": -6}}},
  "strokeDash": {"field": "s", "type": "nominal", "scale": {"domain": ["6−5", "8−7", "10−9"], "range": [[1, 0], [8, 5], [1.5, 2.5]]}, "legend": null},
  "strokeWidth": {"field": "s", "type": "ordinal", "scale": {"domain": ["6−5", "8−7", "10−9"], "range": [2.4, 1.8, 1.4]}, "legend": null}
 }},
{"data": {"values": [{}]},
 "mark": {"type": "text", "font": "DejaVu Serif", "fontSize": 23, "align": "center", "baseline": "middle", "color": "black"},
 "encoding": {
  "x": {"datum": -69.8, "type": "quantitative", "scale": {"domain": [-90, 0], "nice": false, "zero": false},
        "axis": {"orient": "top", "title": null, "labels": false, "values": [-85,-80,-75,-70,-65,-60,-55,-50,-45,-40,-35,-30,-25,-20,-15,-10,-5],
                 "tickSize": {"condition": {"test": "datum.value % 20 === 0", "value": -11}, "value": -6}}},
  "y": {"datum": 8.9, "type": "quantitative", "scale": {"domain": [-2, 15], "nice": false, "zero": false},
        "axis": {"orient": "right", "title": null, "labels": false, "values": [-1,0,1,2,3,4,5,6,7,8,9,10,11,12,13,14],
                 "tickSize": {"condition": {"test": "datum.value % 5 === 0", "value": -11}, "value": -6}}},
  "text": {"value": "IRDC"}
 }}
]
},
{
"width": 419, "height": 251,
"resolve": {"axis": {"x": "independent", "y": "independent"}},
"layer": [
{"data": {"name": "hc"},
 "mark": {"type": "line", "interpolate": "step", "color": "black", "clip": true},
 "encoding": {
  "x": {"field": "v", "type": "quantitative", "scale": {"domain": [-90, 0], "nice": false, "zero": false},
        "axis": {"orient": "bottom", "title": "Velocity (km/s)", "titleFontSize": 24, "labels": true, "values": [-85,-80,-75,-70,-65,-60,-55,-50,-45,-40,-35,-30,-25,-20,-15,-10,-5,0],
                 "labelExpr": "datum.value % 20 === 0 ? datum.label : ''",
                 "labelPadding": 19, "titlePadding": 2,
                 "tickSize": {"condition": {"test": "datum.value % 20 === 0", "value": -11}, "value": -6}}},
  "y": {"field": "t", "type": "quantitative", "scale": {"domain": [-2, 17], "nice": false, "zero": false},
        "axis": {"orient": "left", "title": "Tᴍʙ [K]", "titleFontSize": 25, "titlePadding": 33, "titleY": 107, "titleAlign": "center",
                 "values": [-1,0,1,2,3,4,5,6,7,8,9,10,11,12,13,14,15,16],
                 "labelExpr": "datum.value % 5 === 0 ? datum.label : ''",
                 "tickSize": {"condition": {"test": "datum.value % 5 === 0", "value": -11}, "value": -6}}},
  "strokeDash": {"field": "s", "type": "nominal", "scale": {"domain": ["6−5", "8−7", "10−9"], "range": [[1, 0], [8, 5], [1.5, 2.5]]},
                 "legend": {"orient": "top-right", "offset": 8, "labelExpr": "'¹³CO(' + datum.label + ')'"}},
  "strokeWidth": {"field": "s", "type": "ordinal", "scale": {"domain": ["6−5", "8−7", "10−9"], "range": [2.4, 1.8, 1.4]},
                 "legend": {"orient": "top-right", "offset": 8, "labelExpr": "'¹³CO(' + datum.label + ')'"}}
 }},
{"data": {"values": [{}]},
 "mark": {"type": "text", "font": "DejaVu Serif", "fontSize": 23, "align": "left", "baseline": "middle", "color": "black"},
 "encoding": {
  "x": {"datum": -81.6, "type": "quantitative", "scale": {"domain": [-90, 0], "nice": false, "zero": false},
        "axis": {"orient": "top", "title": null, "labels": false, "values": [-85,-80,-75,-70,-65,-60,-55,-50,-45,-40,-35,-30,-25,-20,-15,-10,-5],
                 "tickSize": {"condition": {"test": "datum.value % 20 === 0", "value": -11}, "value": -6}}},
  "y": {"datum": 11.9, "type": "quantitative", "scale": {"domain": [-2, 17], "nice": false, "zero": false},
        "axis": {"orient": "right", "title": null, "labels": false, "values": [-1,0,1,2,3,4,5,6,7,8,9,10,11,12,13,14,15,16],
                 "tickSize": {"condition": {"test": "datum.value % 5 === 0", "value": -11}, "value": -6}}},
  "text": {"value": "hot core"}
 }}
]
}
],
"resolve": {"scale": {"strokeDash": "independent", "strokeWidth": "independent"}, "legend": {"strokeDash": "independent", "strokeWidth": "independent"}},
"config": {
 "view": {"stroke": "black", "strokeWidth": 2.5},
 "concat": {"spacing": 0},
 "axis": {"domain": false, "grid": false, "tickColor": "black", "tickWidth": 1.8, "labelColor": "black",
          "labelFont": "DejaVu Sans", "labelFontSize": 22, "labelFontWeight": "bold", "labelPadding": 20, "labelOverlap": false, "labelFlush": false,
          "titleFont": "DejaVu Serif", "titleFontSize": 22, "titleFontWeight": "normal", "titleColor": "black"},
 "legend": {"title": null, "padding": 0, "labelFont": "DejaVu Sans", "labelFontSize": 21, "labelColor": "black",
            "symbolType": "stroke", "symbolSize": 400, "symbolStrokeColor": "black", "labelOffset": 2, "rowPadding": 2}
}
}
